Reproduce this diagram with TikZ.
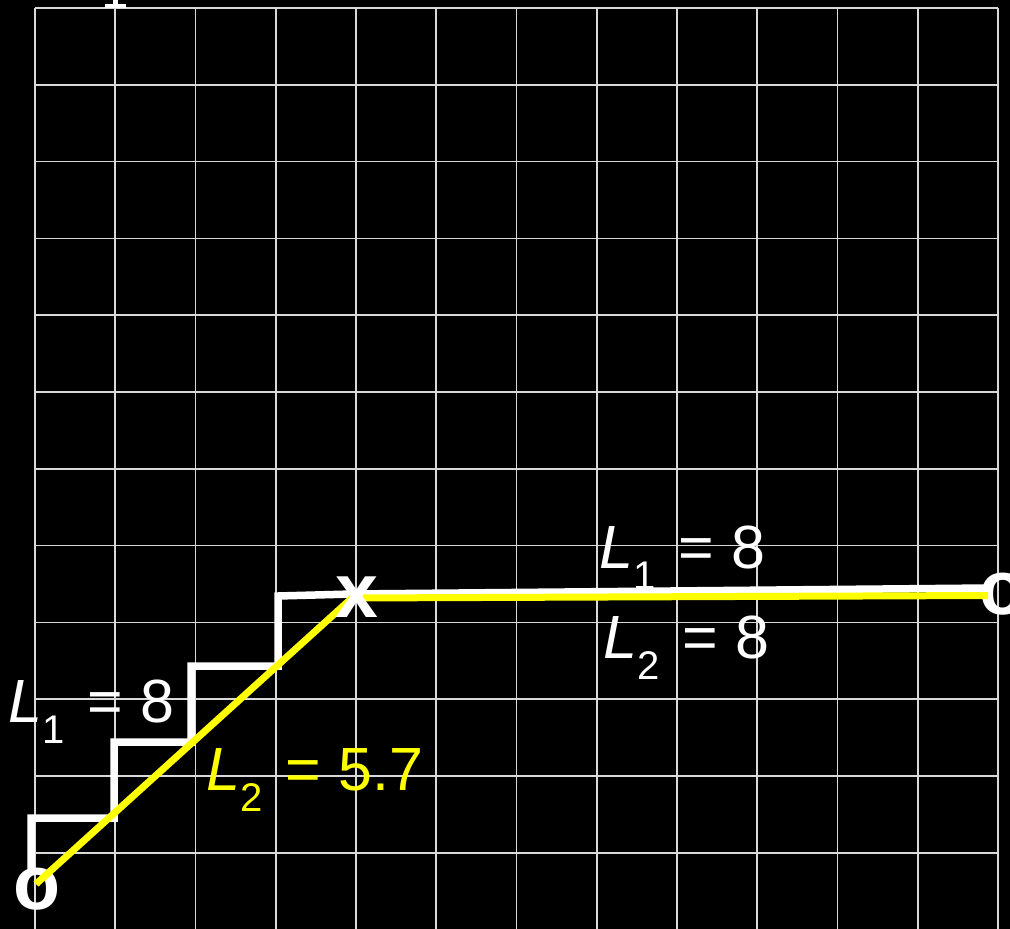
\documentclass[tikz,border=0pt]{standalone}
\usepackage{fontspec}
\setmainfont{Liberation Sans}
\definecolor{gridgray}{HTML}{D9D9D9}
\definecolor{yel}{HTML}{FFFF00}
\newcommand\subtxt[1]{\raisebox{-21pt}{\fontsize{40}{40}\selectfont #1}}
\newcommand\eqlabel[2]{\textit{L}\subtxt{#1}\hspace{23pt}=\hspace{18pt}#2}
\begin{document}
\begin{tikzpicture}[x=1pt,y=-1pt,
  gridline/.style={draw=gridgray,line width=1.7pt},
  stair/.style={draw=white,line width=7.5pt},
  yline/.style={draw=yel,line width=7pt},
  endmark/.style={text=white,inner sep=0pt,font=\fontsize{77}{77}\selectfont\bfseries},
  lab/.style={anchor=base west,inner sep=0pt,font=\fontsize{61}{61}\selectfont}]
\fill[black] (0,0) rectangle (1010,929);
\useasboundingbox (0,0) rectangle (1010,929);
% grid
\foreach \i in {0,...,12} \draw[gridline] ({35+\i*80.25},8) -- ({35+\i*80.25},929);
\foreach \j in {0,...,12} \draw[gridline] (35,{8+\j*76.8}) -- (998,{8+\j*76.8});
% cut-off mark at top
\fill[white] (105,4) rectangle (126,8);
\fill[white] (113,0) rectangle (118,4);
% end marks
\node[endmark] (O1) at (37,889) {o};
\node[endmark] (O2) at (1003,594) {o};
% staircase path (L1)
\coordinate (s0) at (31,872);
\coordinate (s1) at (31,818);
\coordinate (s2) at (114,818);
\coordinate (s3) at (114,742);
\coordinate (s4) at (191,742);
\coordinate (s5) at (191,666);
\coordinate (s6) at (278,666);
\coordinate (s7) at (278,596);
\coordinate (s8) at (352,594);
\coordinate (s9) at (988,588);
\draw[stair] (s0) -- (s1) -- (s2) -- (s3) -- (s4) -- (s5) -- (s6) -- (s7) -- (s8) -- (s9);
% straight path (L2)
\coordinate (y0) at (36,884);
\coordinate (y1) at (352,598);
\coordinate (y2) at (988,595.5);
\draw[yline] (y0) -- (y1) -- (y2);
\node[endmark] (X) at (357,597) {x};
% labels
\node[lab,text=white] (L1a) at (8,722) {\eqlabel{1}{8}};
\node[lab,text=yel] (L2a) at (206,790) {\eqlabel{2}{5.7}};
\node[lab,text=white] (L1b) at (599,568) {\eqlabel{1}{8}};
\node[lab,text=white] (L2b) at (603,658) {\eqlabel{2}{8}};
\end{tikzpicture}
\end{document}
